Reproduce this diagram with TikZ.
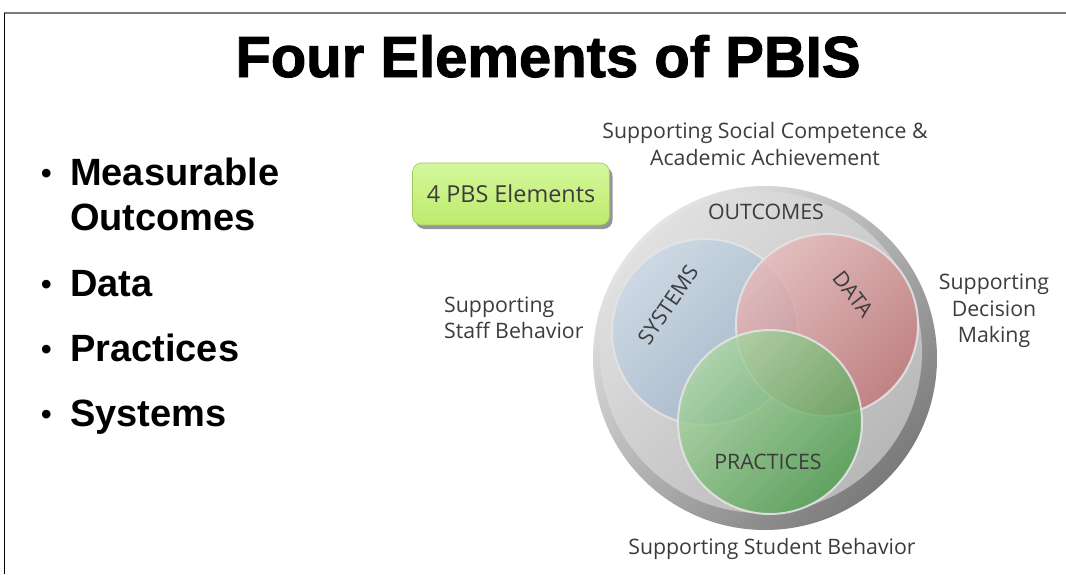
\documentclass[tikz,border=0pt]{standalone}
\usepackage{fontspec}
\setmainfont{Liberation Sans}
\newfontfamily\headfont{Liberation Sans}[BoldFeatures={FakeBold=1.6}]
\newfontfamily\vennfont{Open Sans}
\usepackage{tikz}
\usetikzlibrary{shadows}
\usepackage{xcolor}
\definecolor{framegray}{HTML}{7A7A7A}
\definecolor{vtext}{HTML}{3C3C3C}
\definecolor{ringline}{HTML}{E4E4E4}
\definecolor{tagtop}{HTML}{D4F79C}
\definecolor{tagbot}{HTML}{BDEB6C}
\definecolor{sysA}{HTML}{C9D7E4}
\definecolor{sysB}{HTML}{9DB2C8}
\definecolor{datA}{HTML}{E6B9B9}
\definecolor{datB}{HTML}{C27678}
\definecolor{praA}{HTML}{ACD6A4}
\definecolor{praB}{HTML}{4E9E4E}
\tikzset{
  headline/.style={font=\headfont\fontsize{58}{60}\selectfont\bfseries, inner sep=0pt, anchor=base},
  point/.style={font=\fontsize{38}{40}\selectfont\bfseries, inner sep=0pt, anchor=base west},
  vlabel/.style={font=\vennfont\fontsize{21.3}{26.5}\selectfont, text=vtext, inner sep=0pt, align=center},
  ring/.style={draw=ringline, line width=2pt, fill opacity=0.82, draw opacity=0.9},
  tag/.style={draw=tagbot!85!black, line width=0.6pt, rounded corners=9pt, top color=tagtop,
    bottom color=tagbot, minimum width=197pt, minimum height=62pt, text=vtext,
    font=\vennfont\fontsize{23.4}{26}\selectfont,
    drop shadow={shadow xshift=3pt, shadow yshift=-4pt, opacity=0.55, fill=black!75}},
}
\newcommand{\pbullet}{\makebox[29pt][l]{\raisebox{2pt}{\fontsize{30}{30}\selectfont\textbullet}}}

\begin{document}
\begin{tikzpicture}[x=1pt, y=-1pt]
  \useasboundingbox (0,0) rectangle (1066,574);
  % slide frame
  \draw[framegray, line width=2.4pt] (4,13) -- (1066,13);
  \draw[black, line width=1pt] (4,13) -- (4,574);

  \node[headline] (title) at (548,77) {Four Elements of PBIS};

  % bullet list
  \node[point] (p1) at (41,185) {\pbullet Measurable};
  \node[point] (p1b) at (70,230) {Outcomes};
  \node[point] (p2) at (41,296) {\pbullet Data};
  \node[point] (p3) at (41,361) {\pbullet Practices};
  \node[point] (p4) at (41,426) {\pbullet Systems};

  % outer disc
  \shade[left color=black!10, right color=black!52, shading angle=45] (765,358) circle[radius=172pt];
  \shade[left color=black!12, right color=black!28, shading angle=45] (761,352) circle[radius=161pt];

  % three elements
  \shade[ring, left color=sysA, right color=sysB, shading angle=45] (705,332) circle[radius=93pt];
  \shade[ring, left color=datA, right color=datB, shading angle=45] (827,325) circle[radius=91pt];
  \shade[ring, left color=praA, right color=praB, shading angle=45] (770,422) circle[radius=92pt];

  \node[vlabel] (outc) at (766,212) {OUTCOMES};
  \node[vlabel, rotate=56] (syst) at (668,305) {SYSTEMS};
  \node[vlabel, rotate=-52] (data) at (853,294) {DATA};
  \node[vlabel] (prac) at (768,462) {PRACTICES};

  % what each element supports
  \node[vlabel] (social) at (765,144) {Supporting Social Competence \&\\Academic Achievement};
  \node[vlabel, align=left, anchor=west] (staff) at (444,318) {Supporting\\Staff Behavior};
  \node[vlabel] (decide) at (994,311) {Supporting\\Decision\\Making};
  \node[vlabel] (student) at (772,549) {Supporting Student Behavior};

  \node[tag] (pbs) at (511,194) {4 PBS Elements};
\end{tikzpicture}
\end{document}
